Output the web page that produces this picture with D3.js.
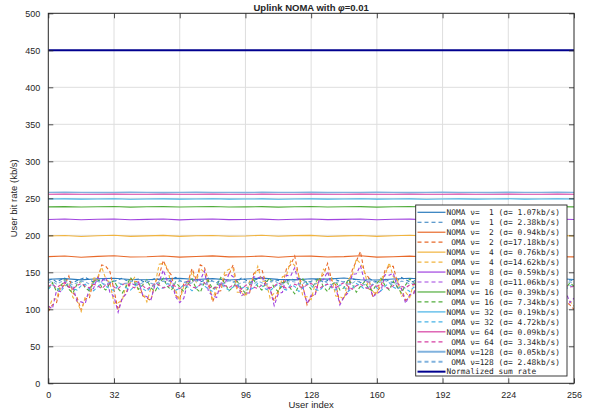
<!DOCTYPE html>
<html lang="en">
<head>
<meta charset="UTF-8">
<title>Uplink NOMA with phi=0.01</title>
<script src="https://d3js.org/d3.v7.min.js"></script>
<style>
  body { margin: 0; background: #fff; }
  text { font-family: "Liberation Sans", Arial, sans-serif; fill: #262626; }
  text.mono { font-family: "DejaVu Sans Mono", monospace; white-space: pre; }
</style>
</head>
<body>
<div id="chart"></div>
<script>
// ---- data ----
const nuValues = [1, 2, 4, 8, 16, 32, 64, 128];
const seriesColors = ["#2b7bbd", "#e8692a", "#f1b43e", "#a042df", "#52ad3c", "#45b2e6", "#d63fa2", "#80b2de"];
const nomaSigma = [1.07, 0.94, 0.76, 0.59, 0.39, 0.19, 0.09, 0.05];
const omaSigma = [2.38, 17.18, 14.62, 11.06, 7.34, 4.72, 3.34, 2.48];
const xTicks = [0, 32, 64, 96, 128, 160, 192, 224, 256];
const yTicks = [0, 50, 100, 150, 200, 250, 300, 350, 400, 450, 500];

// user index of every sample
const nomaUsers = d3.range(0, 257, 8);   // NOMA curves, one value per 8 users
const omaUsers = d3.range(0, 257, 2);    // OMA curves, one value per 2 users
const sumUsers = [0, 256];
const sumRate = [450, 450];

// NOMA (solid)
const noma1 = [140.6,141.5,139.8,141.2,142.0,140.3,139.9,141.1,141.8,140.2,141.4,139.6,140.9,142.1,140.5,139.7,141.3,140.8,142.2,140.0,139.5,141.0,141.9,140.4,141.6,139.8,140.7,142.0,141.1,139.9,140.6,141.7,140.3];
const noma2 = [171.2,172.0,170.4,171.5,172.3,170.6,171.0,172.1,170.5,171.4,172.2,170.8,171.1,172.0,170.3,171.6,171.9,170.7,171.2,172.3,170.5,171.0,171.8,170.6,171.5,172.1,170.9,171.3,172.0,170.4,171.7,171.0,170.8];
const noma4 = [199.0,199.7,198.4,199.3,200.0,198.6,199.2,199.9,198.5,199.4,199.8,198.7,199.1,200.0,198.8,199.5,199.9,198.4,199.2,199.7,198.6,199.3,200.1,198.9,199.4,199.8,198.5,199.1,199.6,198.7,199.3,199.9,199.0];
const noma8 = [221.4,222.0,221.0,221.7,222.1,221.1,221.5,222.0,220.9,221.6,222.1,221.2,221.4,221.9,221.0,221.7,222.0,221.2,221.5,222.1,221.0,221.6,221.9,221.1,221.4,222.0,221.2,221.6,221.9,221.0,221.5,222.0,221.3];
const noma16 = [238.4,238.8,238.2,238.6,238.9,238.1,238.5,238.8,238.2,238.6,238.9,238.3,238.4,238.8,238.1,238.6,238.9,238.2,238.5,238.8,238.1,238.6,238.9,238.3,238.5,238.8,238.2,238.6,238.9,238.1,238.5,238.8,238.4];
const noma32 = [249.0,249.2,248.9,249.1,249.3,248.8,249.0,249.2,248.9,249.1,249.3,248.9,249.0,249.2,248.8,249.1,249.2,248.9,249.0,249.3,248.9,249.1,249.2,248.8,249.0,249.2,248.9,249.1,249.3,248.9,249.0,249.2,249.0];
const noma64 = [255.5,255.6,255.4,255.5,255.6,255.4,255.5,255.6,255.5,255.4,255.6,255.5,255.4,255.6,255.5,255.5,255.6,255.4,255.5,255.6,255.4,255.5,255.6,255.5,255.4,255.6,255.5,255.4,255.6,255.5,255.5,255.6,255.5];
const noma128 = [258.0,258.1,258.0,257.9,258.0,258.1,258.0,257.9,258.0,258.1,258.0,258.0,257.9,258.1,258.0,258.0,258.1,257.9,258.0,258.0,258.1,258.0,257.9,258.0,258.1,258.0,258.0,257.9,258.1,258.0,258.0,258.1,258.0];

// OMA (dashed)
const oma1 = [
  139,141,137,140,142,138,136,139,141,143,140,137,138,141,139,136,
  138,140,142,139,137,140,141,138,136,139,142,140,138,137,140,143,
  139,136,138,141,140,137,139,142,138,136,140,141,139,137,138,142,
  140,136,139,141,143,138,137,140,139,136,138,141,140,142,139,137,
  138,140,141,136,139,142,140,138,137,139,141,140,136,138,142,139,
  137,140,141,138,136,139,143,140,137,138,141,139,136,140,142,138,
  137,139,141,140,136,138,142,139,137,140,141,138,139,136,140,142,
  138,137,139,141,140,136,138,142,139,137,140,141,138,136,139,140,
  138];
const oma2 = [
  97,106,109,130,133,145,122,116,99,114,115,139,140,160,158,151,
  126,99,115,122,141,138,137,118,115,112,136,146,166,153,146,119,
  114,135,137,155,140,160,157,138,110,124,125,146,147,160,129,124,
  120,122,148,153,154,134,127,111,126,131,155,160,172,144,131,106,
  117,121,141,147,162,139,133,109,116,127,153,165,178,149,143,117,
  124,131,153,158,158,136,128,112,118,122,142,147,163,142,135,113,
  108,127,131,153,154,155,129,125,107,125,129,151,150,148,127,121,
  110,130,135,157,156,153,131,123,112,129,137,154,141,135,110,106,
  100];
const oma4 = [
  100,114,114,133,130,136,116,111,97,117,120,142,143,157,141,136,
  108,109,112,134,136,143,123,122,110,129,134,161,162,157,130,126,
  111,132,133,151,137,155,150,133,114,129,131,151,154,155,123,123,
  117,138,143,158,138,138,115,122,121,144,146,165,159,145,117,117,
  113,135,136,154,149,142,118,117,114,140,146,168,162,151,128,124,
  120,143,146,163,144,140,117,123,116,136,137,155,151,145,122,121,
  110,131,135,155,150,149,125,124,111,130,133,153,146,144,123,123,
  113,134,137,155,151,148,126,123,115,134,138,152,136,131,109,111,
  104];
const oma8 = [
  104,101,125,124,137,130,130,111,110,108,128,128,143,138,143,123,
  117,96,115,121,136,133,137,119,117,113,134,137,153,138,138,117,
  109,115,138,137,141,139,152,124,118,116,136,134,148,144,138,118,
  122,122,144,142,145,129,128,105,121,123,146,145,156,134,130,108,
  119,120,140,140,151,131,130,106,117,122,147,148,159,138,137,117,
  121,125,147,146,149,129,128,108,120,121,142,141,151,133,131,112,
  117,117,140,139,151,135,134,115,118,118,139,139,150,132,131,113,
  119,121,143,142,152,135,135,116,121,122,144,139,141,122,124,109,
  115];
const oma16 = [
  128,136,124,131,140,127,122,134,138,129,125,137,141,130,126,135,
  139,128,122,131,143,136,127,133,140,129,124,135,142,131,126,137,
  130,124,134,141,128,123,136,139,127,132,143,135,125,130,138,128,
  122,133,140,131,126,137,142,129,124,134,139,128,121,132,141,135,
  127,136,143,130,124,133,138,126,129,140,134,123,131,137,128,125,
  135,142,132,126,138,130,122,133,141,136,127,124,134,139,129,131,
  140,128,123,135,137,126,132,142,130,125,136,139,127,133,141,129,
  124,134,138,127,131,140,135,123,129,137,142,130,126,134,128,136,
  131];
const oma32 = [
  127,133,129,124,131,135,128,126,132,134,127,125,130,136,131,128,
  125,132,134,129,126,131,135,128,124,130,133,127,129,135,131,126,
  128,133,130,125,129,134,132,127,124,131,136,129,126,130,133,128,
  131,126,129,135,132,127,125,130,134,128,126,133,131,124,129,135,
  132,127,125,131,134,129,126,133,130,124,128,135,132,127,130,134,
  129,125,131,136,130,127,132,128,124,130,134,131,126,129,133,127,
  125,130,135,132,126,128,134,131,127,124,130,136,129,126,132,130,
  127,133,129,125,131,135,128,126,132,130,124,129,134,131,127,132,
  130];
const oma64 = [
  131,134,129,133,136,130,128,132,135,131,129,134,132,128,133,135,
  130,128,133,136,131,129,134,132,127,131,135,133,129,130,134,131,
  128,132,135,130,129,133,136,131,128,130,134,132,129,133,131,127,
  132,135,130,128,133,134,129,131,136,132,128,130,134,131,129,133,
  135,131,128,132,134,130,129,133,136,131,127,132,134,130,128,133,
  131,134,130,128,132,135,131,129,133,134,130,128,132,136,131,129,
  133,130,128,134,132,129,131,135,132,128,130,134,133,129,131,136,
  130,128,132,135,131,129,134,132,128,131,135,130,129,133,132,130,
  131];
const oma128 = [
  136,138,134,137,139,135,133,136,138,137,134,135,138,136,133,137,
  139,136,134,135,138,137,133,136,139,135,134,137,138,135,133,136,
  138,137,134,136,139,135,133,137,138,136,134,135,139,137,133,136,
  137,135,134,138,136,133,137,139,135,134,136,138,137,133,135,138,
  136,134,137,139,135,133,136,138,137,134,135,139,136,133,137,138,
  135,137,139,136,133,135,138,137,134,136,139,135,133,137,138,136,
  134,136,138,135,133,137,139,136,134,135,138,137,133,136,139,135,
  137,134,136,138,135,133,137,139,136,134,135,138,137,133,136,137,
  135];

const nomaSeries = [noma1, noma2, noma4, noma8, noma16, noma32, noma64, noma128];
const omaSeries = [oma1, oma2, oma4, oma8, oma16, oma32, oma64, oma128];

// ---- chart ----
const W = 594, H = 413;
const plot = { left: 48.3, right: 574, top: 13.3, bottom: 383.3 };

const svg = d3.select("#chart").append("svg")
  .attr("width", W).attr("height", H);

const x = d3.scaleLinear().domain([0, 256]).range([plot.left, plot.right]);
const y = d3.scaleLinear().domain([0, 500]).range([plot.bottom, plot.top]);

// grid
svg.append("g").selectAll("line").data(xTicks.slice(1, -1)).join("line")
  .attr("x1", d => x(d)).attr("x2", d => x(d))
  .attr("y1", plot.top).attr("y2", plot.bottom)
  .attr("stroke", "#dedede").attr("stroke-width", 1);
svg.append("g").selectAll("line").data(yTicks.slice(1, -1)).join("line")
  .attr("y1", d => y(d)).attr("y2", d => y(d))
  .attr("x1", plot.left).attr("x2", plot.right)
  .attr("stroke", "#dedede").attr("stroke-width", 1);

// series, drawn in the original order: NOMA then OMA for each nu
svg.append("clipPath").attr("id", "clip")
  .append("rect").attr("x", plot.left).attr("y", plot.top)
  .attr("width", plot.right - plot.left).attr("height", plot.bottom - plot.top);
const lines = svg.append("g").attr("clip-path", "url(#clip)");

const lineFrom = users => d3.line().x((d, i) => x(users[i])).y(d => y(d));

nuValues.forEach((nu, k) => {
  lines.append("path").datum(nomaSeries[k])
    .attr("fill", "none").attr("stroke", seriesColors[k])
    .attr("stroke-width", k === 7 ? 1.4 : 1.1)
    .attr("d", lineFrom(nomaUsers));
  lines.append("path").datum(omaSeries[k])
    .attr("fill", "none").attr("stroke", seriesColors[k])
    .attr("stroke-width", 1.1).attr("stroke-dasharray", "3.5,2.5")
    .attr("d", lineFrom(omaUsers));
});

lines.append("path").datum(sumRate)
  .attr("fill", "none").attr("stroke", "#00008f").attr("stroke-width", 2)
  .attr("d", lineFrom(sumUsers));

// axes (MATLAB style, ticks inward on all sides)
const tickLen = 5;
svg.append("g").attr("transform", `translate(0,${plot.bottom})`)
  .call(d3.axisBottom(x).tickValues(xTicks).tickSize(-tickLen).tickPadding(tickLen + 3).tickSizeOuter(0))
  .call(g => g.select(".domain").remove());
svg.append("g").attr("transform", `translate(0,${plot.top})`)
  .call(d3.axisTop(x).tickValues(xTicks).tickSize(-tickLen).tickFormat("").tickSizeOuter(0))
  .call(g => g.select(".domain").remove());
svg.append("g").attr("transform", `translate(${plot.left},0)`)
  .call(d3.axisLeft(y).tickValues(yTicks).tickSize(-tickLen).tickPadding(tickLen + 3).tickSizeOuter(0))
  .call(g => g.select(".domain").remove());
svg.append("g").attr("transform", `translate(${plot.right},0)`)
  .call(d3.axisRight(y).tickValues(yTicks).tickSize(-tickLen).tickFormat("").tickSizeOuter(0))
  .call(g => g.select(".domain").remove());

svg.selectAll(".tick line").attr("stroke", "#262626").attr("stroke-width", 0.8);
svg.selectAll(".tick text")
  .attr("font-size", 9).attr("fill", "#262626");

// box
svg.append("rect")
  .attr("x", plot.left).attr("y", plot.top)
  .attr("width", plot.right - plot.left).attr("height", plot.bottom - plot.top)
  .attr("fill", "none").attr("stroke", "#262626").attr("stroke-width", 1);

// titles
const title = svg.append("text")
  .attr("x", (plot.left + plot.right) / 2).attr("y", 10.5)
  .attr("text-anchor", "middle").attr("font-size", 9.5).attr("font-weight", "bold");
title.append("tspan").text("Uplink NOMA with ");
title.append("tspan").attr("font-style", "italic").text("φ");
title.append("tspan").text("=0.01");

svg.append("text")
  .attr("x", (plot.left + plot.right) / 2).attr("y", 408)
  .attr("text-anchor", "middle").attr("font-size", 9.5)
  .text("User index");

svg.append("text")
  .attr("transform", `translate(17,${(plot.top + plot.bottom) / 2}) rotate(-90)`)
  .attr("text-anchor", "middle").attr("font-size", 9.5)
  .text("User bit rate (kb/s)");

// legend
const legendRows = [];
nuValues.forEach((nu, k) => {
  const nuTxt = String(nu).padStart(3, " ");
  legendRows.push({ label: `NOMA ν=${nuTxt} (σ=${nomaSigma[k].toFixed(2).padStart(5, " ")}kb/s)`, color: seriesColors[k], dash: null, w: k === 7 ? 2 : 1.2 });
  legendRows.push({ label: ` OMA ν=${nuTxt} (σ=${omaSigma[k].toFixed(2).padStart(5, " ")}kb/s)`, color: seriesColors[k], dash: "4,3", w: k === 7 ? 2 : 1.2 });
});
legendRows.push({ label: "Normalized sum rate", color: "#00008f", dash: null, w: 2 });

const lg = { x: 415.7, y: 205, w: 151.3, h: 171, row: 9.96, first: 212.3 };
const legend = svg.append("g");
legend.append("rect")
  .attr("x", lg.x).attr("y", lg.y).attr("width", lg.w).attr("height", lg.h)
  .attr("fill", "#fff").attr("stroke", "#262626").attr("stroke-width", 0.9);

const rows = legend.selectAll("g.row").data(legendRows).join("g")
  .attr("class", "row")
  .attr("transform", (d, i) => `translate(0,${lg.first + i * lg.row})`);
rows.append("line")
  .attr("x1", 417.5).attr("x2", 445.5).attr("y1", 0).attr("y2", 0)
  .attr("stroke", d => d.color).attr("stroke-width", d => d.w)
  .attr("stroke-dasharray", d => d.dash);
rows.append("text")
  .attr("class", "mono")
  .attr("x", 446.6).attr("y", 2.8)
  .attr("font-size", 7.85)
  .text(d => d.label);
</script>
</body>
</html>
